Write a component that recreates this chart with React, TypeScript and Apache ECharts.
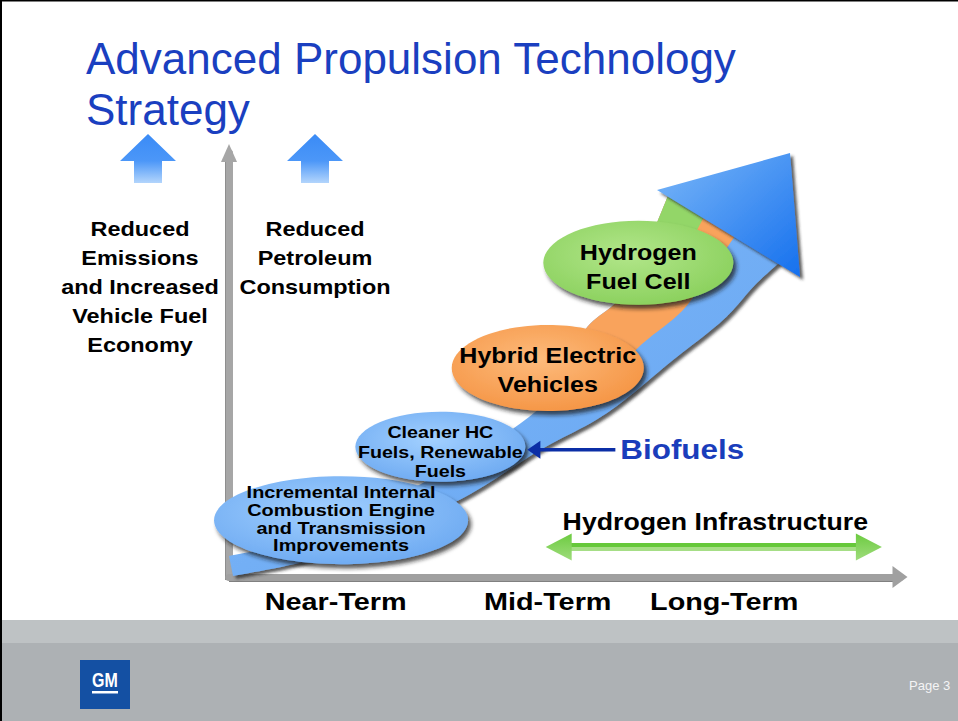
import React, { useEffect, useRef } from "react";
import * as echarts from "echarts";

// ---- content / data ----
const titleLines = ["Advanced Propulsion Technology", "Strategy"];
const goalLabels = [
  "Reduced\nEmissions\nand Increased\nVehicle Fuel\nEconomy",
  "Reduced\nPetroleum\nConsumption",
];
const termLabels = ["Near-Term", "Mid-Term", "Long-Term"];
const termTimes = [15.9, 47.5, 73.8];
const stageLabels = [
  "Incremental Internal\nCombustion Engine\nand Transmission\nImprovements",
  "Cleaner HC\nFuels, Renewable\nFuels",
  "Hybrid Electric\nVehicles",
  "Hydrogen\nFuel Cell",
];
const stageTimes = [16.7, 31.5, 47.5, 61.0];
const stageLevels = [13.4, 30.7, 49.3, 74.1];
// upper and lower edge of the technology progression arrow (time, level)
const trendUpperTimes = [0.0, 10.58, 22.5, 34.43, 44.11, 49.33, 53.05, 58.27, 62.0, 65.42];
const trendUpperLevels = [4.95, 8.73, 16.98, 27.12, 37.03, 45.28, 58.25, 65.8, 77.12, 89.86];
const trendLowerTimes = [0.6, 12.07, 23.99, 35.17, 46.35, 56.33, 66.17, 73.62, 78.39, 82.12];
const trendLowerLevels = [0.24, 4.01, 11.08, 18.87, 29.95, 38.68, 51.18, 60.61, 68.87, 74.29];
const headTimes = [63.79, 83.61, 85.1];
const headLevels = [91.27, 100.0, 70.75];
const infraLabel = "Hydrogen Infrastructure";
const infraSpan = [47.2, 97.3];
const infraLevel = 7.1;
const biofuelsLabel = "Biofuels";
const pageLabel = "Page 3";
const logoLabel = "GM";

// ---- styles ----
const FONT = '"Liberation Sans", Arial, Helvetica, sans-serif';
const STRETCH = 1.15;
const ellipseRadii = [
  [127, 44],
  [85, 35],
  [96, 43],
  [95, 42],
];
const ellipseTextDy = [-1.5, 5, 2.5, 4.5];
const ellipseFont = [17.3, 17.1, 21.8, 21.8];
const ellipseLine = [17.7, 19.5, 29, 29];
const ellipseColors = [
  ["#A2D0FF", "#68A6F0"],
  ["#A2D0FF", "#68A6F0"],
  ["#FDBB7C", "#F4913F"],
  ["#B2E68A", "#86CE58"],
];

function spline(pts: number[][], seg: number): number[][] {
  const out: number[][] = [];
  for (let i = 0; i < pts.length - 1; i++) {
    const p0 = pts[Math.max(0, i - 1)];
    const p1 = pts[i];
    const p2 = pts[i + 1];
    const p3 = pts[Math.min(pts.length - 1, i + 2)];
    for (let s = 0; s < seg; s++) {
      const t = s / seg;
      const t2 = t * t;
      const t3 = t2 * t;
      out.push(
        [0, 1].map(
          (k) =>
            0.5 *
            (2 * p1[k] +
              (-p0[k] + p2[k]) * t +
              (2 * p0[k] - 5 * p1[k] + 4 * p2[k] - p3[k]) * t2 +
              (-p0[k] + 3 * p1[k] - 3 * p2[k] + p3[k]) * t3)
        )
      );
    }
  }
  out.push(pts[pts.length - 1]);
  return out;
}

export default function App() {
  const ref = useRef<HTMLDivElement>(null);
  useEffect(() => {
    if (!ref.current) return;
    const chart = echarts.init(ref.current, null, { renderer: "svg" });
    const SEG = 12;

    const trendSeries = {
      type: "custom",
      coordinateSystem: "cartesian2d",
      data: [[trendUpperTimes[0], trendUpperLevels[0]]],
      silent: true,
      z: 2,
      renderItem: (_p: any, api: any) => {
        const up = trendUpperTimes.map((t, i) => api.coord([t, trendUpperLevels[i]]));
        const lo = trendLowerTimes.map((t, i) => api.coord([t, trendLowerLevels[i]]));
        const U = spline(up, SEG);
        const L = spline(lo, SEG);
        const mix = (f: number) =>
          U.map((p, i) => [p[0] + (L[i][0] - p[0]) * f, p[1] + (L[i][1] - p[1]) * f]);
        const band = (a: number[][], b: number[][], from: number) => [
          ...a.slice(from),
          ...b.slice(from).reverse(),
        ];
        const O = mix(0.6);
        const G = mix(0.32);
        const head = headTimes.map((t, i) => api.coord([t, headLevels[i]]));
        return {
          type: "group",
          children: [
            {
              type: "polygon",
              shape: { points: band(U, L, 0) },
              style: {
                fill: new echarts.graphic.LinearGradient(0, 0, 1, 1, [
                  { offset: 0, color: "#80B9F8" },
                  { offset: 1, color: "#66A5F2" },
                ]),
                shadowBlur: 3,
                shadowOffsetX: 3,
                shadowOffsetY: 3,
                shadowColor: "rgba(40,40,40,0.75)",
              },
            },
            {
              type: "polygon",
              shape: { points: band(U, O, 5 * SEG) },
              style: { fill: "#F9A35C" },
            },
            {
              type: "polygon",
              shape: { points: band(U, G, 8 * SEG) },
              style: { fill: "#93D668" },
            },
            {
              type: "polygon",
              shape: { points: head },
              style: {
                fill: new echarts.graphic.LinearGradient(0, 0, 1, 1, [
                  { offset: 0, color: "#7CB8F8" },
                  { offset: 1, color: "#1570EE" },
                ]),
                shadowBlur: 3,
                shadowOffsetX: 3,
                shadowOffsetY: 3,
                shadowColor: "rgba(40,40,40,0.75)",
              },
            },
          ],
        };
      },
    };

    const stageSeries = {
      type: "custom",
      coordinateSystem: "cartesian2d",
      data: stageTimes.map((t, i) => [t, stageLevels[i], i]),
      silent: true,
      z: 3,
      renderItem: (params: any, api: any) => {
        const i = params.dataIndex;
        const c = api.coord([api.value(0), api.value(1)]);
        const [rx, ry] = ellipseRadii[i];
        return {
          type: "group",
          children: [
            {
              type: "ellipse",
              shape: { cx: c[0], cy: c[1], rx, ry },
              style: {
                fill: new echarts.graphic.RadialGradient(0.45, 0.4, 0.7, [
                  { offset: 0, color: ellipseColors[i][0] },
                  { offset: 1, color: ellipseColors[i][1] },
                ]),
                shadowBlur: 4,
                shadowOffsetX: 3,
                shadowOffsetY: 4,
                shadowColor: "rgba(30,30,30,0.75)",
              },
            },
            {
              type: "text",
              x: c[0],
              y: c[1] + ellipseTextDy[i],
              scaleX: STRETCH,
              style: {
                text: stageLabels[i],
                x: 0,
                y: 0,
                align: "center",
                verticalAlign: "middle",
                fill: "#000",
                fontSize: ellipseFont[i],
                fontWeight: "bold",
                fontFamily: FONT,
                lineHeight: ellipseLine[i],
              },
            },
          ],
        };
      },
    };

    const biofuelSeries = {
      type: "custom",
      coordinateSystem: "cartesian2d",
      data: [[stageTimes[1], stageLevels[1]]],
      silent: true,
      z: 4,
      renderItem: (_p: any, api: any) => {
        const c = api.coord([api.value(0), api.value(1)]);
        const tx = c[0] + ellipseRadii[1][0] + 2;
        const ty = c[1] + 3;
        return {
          type: "group",
          children: [
            {
              type: "line",
              shape: { x1: tx + 10, y1: ty, x2: tx + 88, y2: ty },
              style: { stroke: "#0B2EA6", lineWidth: 3.5 },
            },
            {
              type: "polygon",
              shape: { points: [[tx, ty], [tx + 13, ty - 9], [tx + 13, ty + 9]] },
              style: { fill: "#0B2EA6" },
            },
            {
              type: "text",
              x: tx + 93,
              y: ty - 1,
              scaleX: STRETCH,
              style: {
                text: biofuelsLabel,
                x: 0,
                y: 0,
                align: "left",
                verticalAlign: "middle",
                fill: "#1A3DBB",
                fontSize: 27.3,
                fontWeight: "bold",
                fontFamily: FONT,
              },
            },
          ],
        };
      },
    };

    const infraSeries = {
      type: "custom",
      coordinateSystem: "cartesian2d",
      data: [[infraSpan[0], infraLevel, infraSpan[1]]],
      silent: true,
      z: 4,
      renderItem: (_p: any, api: any) => {
        const a = api.coord([api.value(0), api.value(1)]);
        const b = api.coord([api.value(2), api.value(1)]);
        const y = a[1];
        const hl = 26;
        const hh = 13.5;
        const headFill = () =>
          new echarts.graphic.LinearGradient(0, 0, 0, 1, [
            { offset: 0, color: "#6CCB40" },
            { offset: 1, color: "#9FDC7C" },
          ]);
        return {
          type: "group",
          children: [
            {
              type: "rect",
              shape: { x: a[0] + hl - 2, y: y - 4, width: b[0] - a[0] - 2 * hl + 4, height: 4 },
              style: { fill: "#66C83A" },
            },
            {
              type: "rect",
              shape: { x: a[0] + hl - 2, y: y, width: b[0] - a[0] - 2 * hl + 4, height: 4 },
              style: { fill: "#A6DE86" },
            },
            {
              type: "polygon",
              shape: { points: [[a[0], y], [a[0] + hl, y - hh], [a[0] + hl, y + hh]] },
              style: { fill: headFill() },
            },
            {
              type: "polygon",
              shape: { points: [[b[0], y], [b[0] - hl, y - hh], [b[0] - hl, y + hh]] },
              style: { fill: headFill() },
            },
            {
              type: "text",
              x: (a[0] + b[0]) / 2 + 1.5,
              y: y - 25,
              scaleX: STRETCH,
              style: {
                text: infraLabel,
                x: 0,
                y: 0,
                align: "center",
                verticalAlign: "middle",
                fill: "#000",
                fontSize: 23.2,
                fontWeight: "bold",
                fontFamily: FONT,
              },
            },
          ],
        };
      },
    };

    const termSeries = {
      type: "custom",
      coordinateSystem: "cartesian2d",
      data: termTimes.map((t, i) => [t, 0, i]),
      silent: true,
      z: 4,
      renderItem: (params: any, api: any) => {
        const c = api.coord([api.value(0), api.value(1)]);
        return {
          type: "text",
          x: c[0],
          y: c[1] + 25,
          scaleX: 1.2,
          style: {
            text: termLabels[params.dataIndex],
            x: 0,
            y: 0,
            align: "center",
            verticalAlign: "middle",
            fill: "#000",
            fontSize: 24,
            fontWeight: "bold",
            fontFamily: FONT,
          },
        };
      },
    };

    const upArrow = (cx: number) => ({
      type: "polygon",
      shape: {
        points: [
          [cx, 134],
          [cx + 28, 161],
          [cx + 14, 161],
          [cx + 14, 183],
          [cx - 14, 183],
          [cx - 14, 161],
          [cx - 28, 161],
        ],
      },
      style: {
        fill: {
          type: "linear",
          x: 0,
          y: 0,
          x2: 0,
          y2: 1,
          colorStops: [
            { offset: 0, color: "#3A8BF6" },
            { offset: 0.55, color: "#4C97F8" },
            { offset: 1, color: "#B3D5FC" },
          ],
        },
      },
      silent: true,
    });

    const option: any = {
      animation: false,
      backgroundColor: "#FFFFFF",
      grid: { left: 229, right: 58, top: 153, bottom: 144, containLabel: false },
      xAxis: {
        type: "value",
        min: 0,
        max: 100,
        axisLine: {
          show: true,
          symbol: ["none", "triangle"],
          symbolSize: [22, 15],
          lineStyle: { color: "#A0A0A0", width: 7 },
        },
        axisTick: { show: false },
        axisLabel: { show: false },
        splitLine: { show: false },
      },
      yAxis: {
        type: "value",
        min: 0,
        max: 100,
        axisLine: {
          show: true,
          symbol: ["none", "triangle"],
          symbolSize: [16, 18],
          lineStyle: { color: "#A6A6A6", width: 7 },
        },
        axisTick: { show: false },
        axisLabel: { show: false },
        splitLine: { show: false },
      },
      graphic: {
        elements: [
          // footer
          { type: "rect", shape: { x: 0, y: 620, width: 958, height: 23 }, style: { fill: "#BEC2C4" }, silent: true },
          { type: "rect", shape: { x: 0, y: 643, width: 958, height: 78 }, style: { fill: "#ADB1B4" }, silent: true },
          // borders
          { type: "rect", shape: { x: 0, y: 0, width: 2, height: 721 }, style: { fill: "#000" }, silent: true },
          { type: "rect", shape: { x: 0, y: 0, width: 958, height: 1.5 }, style: { fill: "#000" }, silent: true },
          // axis shading
          { type: "rect", shape: { x: 229, y: 580, width: 665, height: 2 }, style: { fill: "#808080" }, silent: true },
          { type: "rect", shape: { x: 225, y: 160, width: 2, height: 420 }, style: { fill: "#8E8E8E" }, silent: true },
          // logo
          { type: "rect", shape: { x: 80, y: 660, width: 50, height: 49 }, style: { fill: "#1450A3" }, silent: true },
          {
            type: "text",
            x: 105,
            y: 680,
            scaleX: 0.82,
            style: {
              text: logoLabel,
              x: 0,
              y: 0,
              align: "center",
              verticalAlign: "middle",
              fill: "#FFFFFF",
              fontSize: 19.5,
              fontWeight: "bold",
              fontFamily: FONT,
            },
            silent: true,
          },
          { type: "rect", shape: { x: 92, y: 691, width: 26, height: 2.5 }, style: { fill: "#FFFFFF" }, silent: true },
          {
            type: "text",
            x: 909,
            y: 685,
            style: {
              text: pageLabel,
              x: 0,
              y: 0,
              align: "left",
              verticalAlign: "middle",
              fill: "#F4F4F4",
              fontSize: 13,
              fontFamily: FONT,
            },
            silent: true,
          },
          // title
          ...titleLines.map((t, i) => ({
            type: "text",
            x: 86,
            y: 58 + i * 51,
            style: {
              text: t,
              x: 0,
              y: 0,
              align: "left",
              verticalAlign: "middle",
              fill: "#1A3FC0",
              fontSize: 44,
              fontFamily: FONT,
            },
            silent: true,
          })),
          // goal arrows
          upArrow(148),
          upArrow(315),
          {
            type: "text",
            x: 140,
            y: 287,
            scaleX: STRETCH,
            style: {
              text: goalLabels[0],
              x: 0,
              y: 0,
              align: "center",
              verticalAlign: "middle",
              fill: "#000",
              fontSize: 20.4,
              fontWeight: "bold",
              fontFamily: FONT,
              lineHeight: 29,
            },
            silent: true,
          },
          {
            type: "text",
            x: 315,
            y: 258,
            scaleX: STRETCH,
            style: {
              text: goalLabels[1],
              x: 0,
              y: 0,
              align: "center",
              verticalAlign: "middle",
              fill: "#000",
              fontSize: 20.4,
              fontWeight: "bold",
              fontFamily: FONT,
              lineHeight: 29,
            },
            silent: true,
          },
        ],
      },
      series: [trendSeries, stageSeries, biofuelSeries, infraSeries, termSeries],
    };
    chart.setOption(option);
    return () => chart.dispose();
  }, []);
  return (
    <div
      ref={ref}
      style={{ position: "absolute", left: 0, top: 0, width: 958, height: 721, background: "#fff" }}
    />
  );
}
